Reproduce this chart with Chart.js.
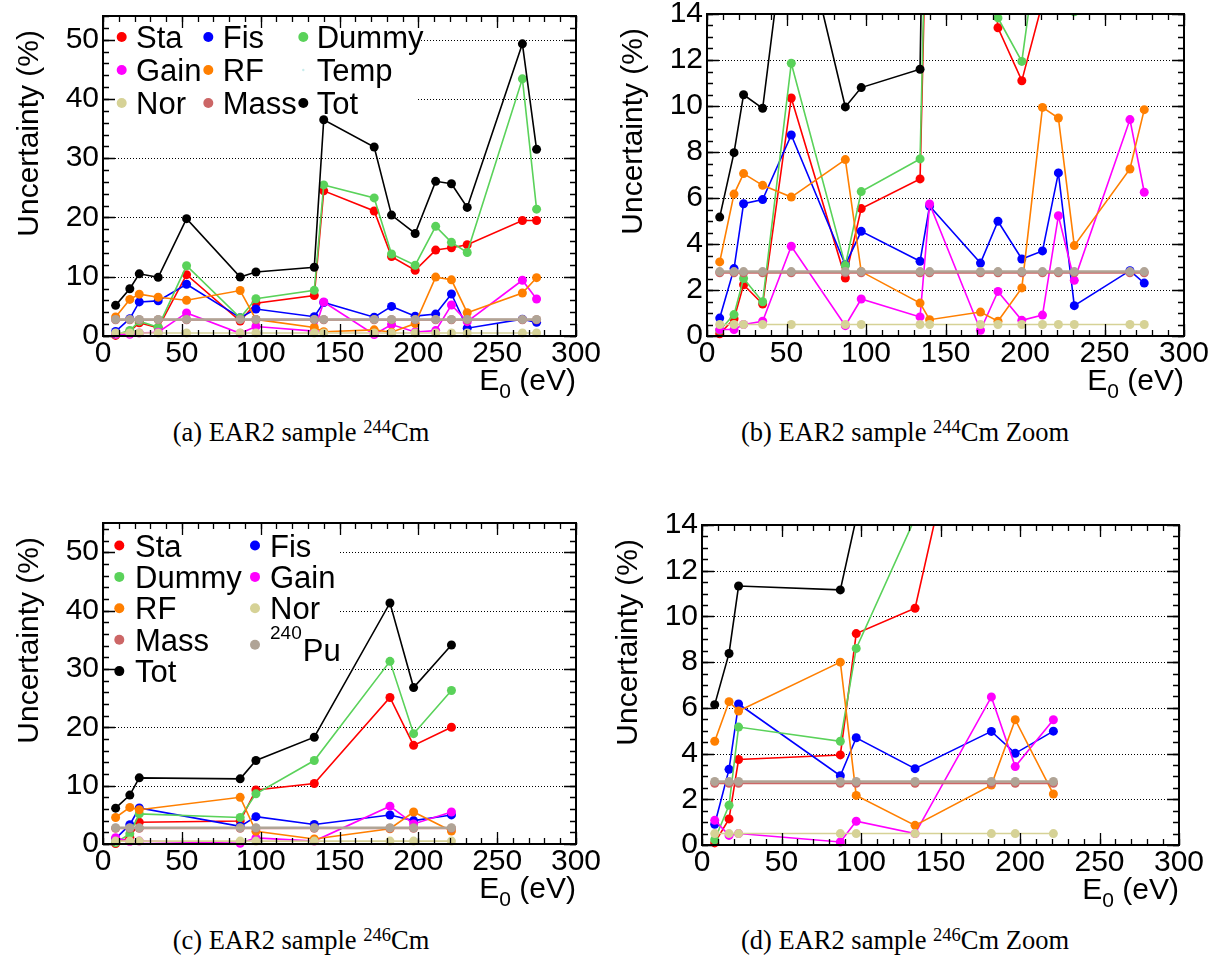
<!DOCTYPE html>
<html><head><meta charset="utf-8">
<script src="https://cdn.jsdelivr.net/npm/chart.js@4.4.1/dist/chart.umd.min.js"></script>
<style>
html,body{margin:0;padding:0;background:#fff;}
body{width:1227px;height:962px;position:relative;overflow:hidden;}
.pane{position:absolute;}
.pane canvas{display:block;}
.cap{position:absolute;font-family:"Liberation Serif","DejaVu Serif",serif;font-size:26.5px;line-height:30px;color:#000;white-space:nowrap;transform:translateX(-50%);}
.cap sup{font-size:0.7em;vertical-align:0.42em;line-height:0;}
</style></head><body>
<div class="pane" style="left:0;top:0;"><canvas id="ca" width="613" height="415"></canvas></div>
<div class="pane" style="left:613px;top:0;"><canvas id="cb" width="614" height="415"></canvas></div>
<div class="pane" style="left:0;top:508px;"><canvas id="cc" width="613" height="415"></canvas></div>
<div class="pane" style="left:613px;top:508px;"><canvas id="cd" width="614" height="415"></canvas></div>
<div class="cap" style="left:301px;top:417px;">(a) EAR2 sample <sup>244</sup>Cm</div>
<div class="cap" style="left:905px;top:417px;">(b) EAR2 sample <sup>244</sup>Cm Zoom</div>
<div class="cap" style="left:301px;top:925px;">(c) EAR2 sample <sup>246</sup>Cm</div>
<div class="cap" style="left:905px;top:925px;">(d) EAR2 sample <sup>246</sup>Cm Zoom</div>
<script>
// ---------- tick labels ----------
const X_TICKS = [0, 50, 100, 150, 200, 250, 300];
const Y_TICKS_FULL = [0, 10, 20, 30, 40, 50];
const Y_TICKS_ZOOM = [0, 2, 4, 6, 8, 10, 12, 14];

// ---------- 244Cm (EAR2) ----------
const E244     = [8, 17, 23, 35, 53, 87, 97, 134, 140, 172, 183, 198, 211, 221, 231, 266, 275];
const sta244   = [0.1, 0.75, 2.23, 1.39, 10.35, 2.52, 5.54, 6.83, 24.5, 21.1, 13.4, 11.1, 14.5, 14.9, 15.4, 19.5, 19.5];
const fis244   = [0.78, 2.93, 5.75, 5.93, 8.74, 3.1, 4.55, 3.25, 5.65, 3.17, 4.99, 3.35, 3.7, 7.09, 1.32, 2.84, 2.3];
const dummy244 = [0.25, 0.93, 2.5, 1.49, 11.86, 3.07, 6.28, 7.7, 25.5, 23.3, 13.83, 11.94, 18.5, 15.8, 14.1, 43.4, 21.4];
const gain244  = [0.28, 0.28, 0.5, 0.64, 3.9, 0.45, 1.61, 0.83, 5.74, 0.25, 1.94, 0.68, 0.91, 5.23, 2.42, 9.41, 6.25];
const rf244    = [3.22, 6.17, 7.06, 6.55, 6.04, 7.67, 2.8, 1.43, 0.71, 1.04, 0.64, 2.09, 9.94, 9.48, 3.93, 7.26, 9.84];
const temp244  = [];
const nor244   = [0.5, 0.5, 0.5, 0.5, 0.5, 0.5, 0.5, 0.5, 0.5, 0.5, 0.5, 0.5, 0.5, 0.5, 0.5, 0.5, 0.5];
const mass244  = [2.75, 2.75, 2.75, 2.75, 2.75, 2.75, 2.75, 2.75, 2.75, 2.75, 2.75, 2.75, 2.75, 2.75, 2.75, 2.75, 2.75];
const pu244    = [2.8, 2.8, 2.8, 2.8, 2.8, 2.8, 2.8, 2.8, 2.8, 2.8, 2.8, 2.8, 2.8, 2.8, 2.8, 2.8, 2.8];
const tot244   = [5.17, 7.97, 10.49, 9.9, 19.8, 9.96, 10.8, 11.6, 36.5, 31.9, 20.4, 17.3, 26.1, 25.7, 21.7, 49.3, 31.5];

// ---------- 246Cm (EAR2) ----------
const E246     = [8, 17, 23, 87, 97, 134, 182, 197, 221];
const sta246   = [0.09, 1.14, 3.74, 3.94, 9.25, 10.36, 25.1, 16.9, 20.0];
const fis246   = [0.91, 3.31, 6.17, 3.03, 4.69, 3.34, 4.97, 4.01, 4.98];
const dummy246 = [0.23, 1.74, 5.16, 4.54, 8.6, 14.3, 31.3, 18.9, 26.3];
const gain246  = [1.08, 0.42, 0.5, 0.13, 1.04, 0.5, 6.48, 3.43, 5.48];
const rf246    = [4.54, 6.27, 5.86, 8.0, 2.17, 0.86, 2.62, 5.48, 2.23];
const nor246   = [0.5, 0.5, 0.5, 0.5, 0.5, 0.5, 0.5, 0.5, 0.5];
const mass246  = [2.7, 2.7, 2.7, 2.7, 2.7, 2.7, 2.7, 2.7, 2.7];
const pu246    = [2.78, 2.78, 2.78, 2.78, 2.78, 2.78, 2.78, 2.78, 2.78];
const tot246   = [6.14, 8.38, 11.33, 11.16, 14.3, 18.3, 41.3, 26.8, 34.1];

const COL = {Sta:'#ff0000', Fis:'#0000ff', Dummy:'#5ad25a', Gain:'#ff00ff', RF:'#ff7f00',
             Temp:'#c8ecec', Nor:'#d6d296', Mass:'#cc6666', Pu:'#b0a496', Tot:'#000000'};
const FONT = '"Liberation Sans", Arial, sans-serif';

function ds(label, key, xs, ys, idx, lw) {
  return {
    label: label, key: key,
    data: ys.map((v, i) => ({x: xs[i], y: v})),
    borderColor: COL[key], backgroundColor: COL[key],
    pointBackgroundColor: COL[key], pointBorderWidth: 0,
    pointRadius: 4.5, pointHoverRadius: 4.5,
    borderWidth: lw || 1.6, tension: 0, fill: false,
    order: 20 - idx,
    clip: {left: 6, right: 6, bottom: 6, top: 0}
  };
}

const set244 = () => [
  ds('Sta', 'Sta', E244, sta244, 0), ds('Fis', 'Fis', E244, fis244, 1),
  ds('Dummy', 'Dummy', E244, dummy244, 2), ds('Gain', 'Gain', E244, gain244, 3),
  ds('RF', 'RF', E244, rf244, 4), ds('Temp', 'Temp', E244, temp244, 5),
  ds('Nor', 'Nor', E244, nor244, 6), ds('Mass', 'Mass', E244, mass244, 7, 2),
  ds('240Pu', 'Pu', E244, pu244, 8, 2.5), ds('Tot', 'Tot', E244, tot244, 9)
];
const set246 = () => [
  ds('Sta', 'Sta', E246, sta246, 0), ds('Fis', 'Fis', E246, fis246, 1),
  ds('Dummy', 'Dummy', E246, dummy246, 2), ds('Gain', 'Gain', E246, gain246, 3),
  ds('RF', 'RF', E246, rf246, 4),
  ds('Nor', 'Nor', E246, nor246, 6), ds('Mass', 'Mass', E246, mass246, 7, 2),
  ds('240Pu', 'Pu', E246, pu246, 8, 2.5), ds('Tot', 'Tot', E246, tot246, 9)
];

function drawLabel(ctx, label, x, y, fs) {
  ctx.font = fs + 'px ' + FONT;
  ctx.textAlign = 'left'; ctx.textBaseline = 'alphabetic';
  if (label === '240Pu') {
    const sfs = Math.round(fs * 0.62);
    ctx.font = sfs + 'px ' + FONT;
    ctx.fillText('240', x, y - 22);
    const w = ctx.measureText('240').width;
    ctx.font = fs + 'px ' + FONT;
    ctx.fillText('Pu', x + w + 1, y);
  } else {
    ctx.fillText(label, x, y);
  }
}

const rootPlugin = {
  id: 'root',
  beforeDatasetsDraw(chart) {
    const cfg = chart.options.plugins.root;
    const {ctx, chartArea: a, scales: {y}} = chart;
    ctx.save();
    ctx.strokeStyle = '#000'; ctx.lineWidth = 1; ctx.setLineDash([1, 2]);
    cfg.yTicks.forEach(v => {
      if (v <= y.min || v >= y.max) return;
      const py = Math.round(y.getPixelForValue(v)) + 0.5;
      ctx.beginPath(); ctx.moveTo(a.left, py); ctx.lineTo(a.right, py); ctx.stroke();
    });
    ctx.setLineDash([]);
    const L = cfg.legend;
    ctx.fillStyle = '#fff';
    ctx.fillRect(a.left + 1, a.top + 1, L.boxW, L.boxH);
    ctx.restore();
  },
  afterDatasetsDraw(chart) {
    const cfg = chart.options.plugins.root;
    const {ctx, chartArea: a} = chart;
    const L = cfg.legend;
    ctx.save();
    L.items.forEach((lab, i) => {
      const d = chart.data.datasets.find(s => s.label === lab);
      if (!d) return;
      const col = L.cols[i % L.cols.length];
      const row = Math.floor(i / L.cols.length);
      let cy = a.top + L.rowY0 + row * L.rowDY;
      let base = cy + 0.358 * L.font;
      let my = cy;
      if (lab === '240Pu') { base += 10; my += 5; }
      ctx.fillStyle = d.borderColor;
      ctx.beginPath();
      ctx.arc(a.left + col.mx, my, lab === 'Temp' ? 1.2 : 5, 0, Math.PI * 2);
      ctx.fill();
      ctx.fillStyle = '#000';
      drawLabel(ctx, lab, a.left + col.tx, base, L.font);
    });
    ctx.restore();
  },
  afterDraw(chart) {
    const cfg = chart.options.plugins.root;
    const {ctx, chartArea: a, scales: {x, y}} = chart;
    ctx.save();
    ctx.strokeStyle = '#000';
    ctx.lineWidth = 1.3;
    const tickX = (v, len) => {
      const px = Math.round(x.getPixelForValue(v)) + 0.5;
      ctx.beginPath();
      ctx.moveTo(px, a.bottom); ctx.lineTo(px, a.bottom - len);
      ctx.moveTo(px, a.top); ctx.lineTo(px, a.top + len);
      ctx.stroke();
    };
    const tickY = (v, len) => {
      const py = Math.round(y.getPixelForValue(v)) + 0.5;
      ctx.beginPath();
      ctx.moveTo(a.left, py); ctx.lineTo(a.left + len, py);
      ctx.moveTo(a.right, py); ctx.lineTo(a.right - len, py);
      ctx.stroke();
    };
    for (let v = x.min; v <= x.max + 1e-9; v += cfg.xMinor) tickX(v, 6);
    X_TICKS.forEach(v => tickX(v, 12));
    for (let v = y.min; v <= y.max + 1e-9; v += cfg.yMinor) tickY(v, 6);
    cfg.yTicks.forEach(v => { if (v <= y.max) tickY(v, 12); });
    ctx.lineWidth = 2;
    ctx.strokeRect(a.left, a.top, a.right - a.left, a.bottom - a.top);
    ctx.fillStyle = '#000';
    ctx.textBaseline = 'alphabetic';
    const fs = 30;
    ctx.font = fs + 'px ' + FONT;
    ctx.textAlign = 'left';
    const t1 = ' (eV)';
    const w1 = ctx.measureText(t1).width;
    const wE = ctx.measureText('E').width;
    ctx.font = '21px ' + FONT;
    const w0 = ctx.measureText('0').width;
    const by = a.bottom + cfg.xTitleDy;
    let xx = a.right - w1 - w0 - wE;
    ctx.font = fs + 'px ' + FONT;
    ctx.fillText('E', xx, by);
    ctx.font = '21px ' + FONT;
    ctx.fillText('0', xx + wE, by + 8);
    ctx.font = fs + 'px ' + FONT;
    ctx.fillText(t1, xx + wE + w0, by);
    ctx.save();
    ctx.translate(a.left - 65, a.top + 14);
    ctx.rotate(-Math.PI / 2);
    ctx.textAlign = 'right';
    ctx.font = fs + 'px ' + FONT;
    ctx.fillText('Uncertainty (%)', 0, 0);
    ctx.restore();
    ctx.restore();
  }
};

function makeChart(id, cfg) {
  const cv = document.getElementById(id);
  const W = cv.width, H = cv.height, A = cfg.area;
  const zeroPad = s => { s.paddingLeft = 0; s.paddingRight = 0; s.paddingTop = 0; s.paddingBottom = 0; };
  return new Chart(cv, {
    type: 'line',
    data: {datasets: cfg.datasets},
    options: {
      responsive: false, animation: false, devicePixelRatio: 1,
      layout: {padding: {left: 0, top: A.top, right: W - A.right, bottom: 0}},
      plugins: {
        legend: {display: false}, tooltip: {enabled: false},
        root: {yTicks: cfg.yTicks, yMinor: cfg.yMinor, xMinor: 10, legend: cfg.legend, xTitleDy: 54}
      },
      events: [],
      scales: {
        x: {
          type: 'linear', min: 0, max: 300,
          grid: {display: false, drawTicks: false}, border: {display: false},
          afterBuildTicks: s => { s.ticks = X_TICKS.map(v => ({value: v})); },
          ticks: {font: {family: FONT, size: 30}, color: '#000', padding: 0, maxRotation: 0, autoSkip: false},
          afterFit: s => { s.height = H - A.bottom; zeroPad(s); }
        },
        y: {
          type: 'linear', min: 0, max: cfg.ymax,
          grid: {display: false, drawTicks: false}, border: {display: false},
          afterBuildTicks: s => { s.ticks = cfg.yTicks.map(v => ({value: v})); },
          ticks: {font: {family: FONT, size: 30}, color: '#000', padding: 4, autoSkip: false},
          afterFit: s => { s.width = A.left; zeroPad(s); }
        }
      }
    },
    plugins: [rootPlugin]
  });
}

const legendA = {
  boxW: 314, boxH: 95, font: 31, rowY0: 21, rowDY: 33,
  cols: [{mx: 18.7, tx: 33}, {mx: 105.3, tx: 119.7}, {mx: 200.3, tx: 213.7}],
  items: ['Sta', 'Fis', 'Dummy', 'Gain', 'RF', 'Temp', 'Nor', 'Mass', 'Tot']
};
const legendC = {
  boxW: 235, boxH: 172, font: 31, rowY0: 22.5, rowDY: 31.4,
  cols: [{mx: 16.3, tx: 32}, {mx: 152, tx: 167}],
  items: ['Sta', 'Fis', 'Dummy', 'Gain', 'RF', 'Nor', 'Mass', '240Pu', 'Tot']
};
const legendNone = {boxW: 0, boxH: 0, font: 31, rowY0: 0, rowDY: 0, cols: [{mx: 0, tx: 0}], items: []};

makeChart('ca', {area: {left: 103, top: 16, right: 576, bottom: 336}, ymax: 54,
  yTicks: Y_TICKS_FULL, yMinor: 2, legend: legendA, datasets: set244()});
makeChart('cb', {area: {left: 94, top: 14, right: 571, bottom: 336}, ymax: 14,
  yTicks: Y_TICKS_ZOOM, yMinor: 0.5, legend: legendNone, datasets: set244()});
makeChart('cc', {area: {left: 103, top: 15, right: 576, bottom: 336}, ymax: 55,
  yTicks: Y_TICKS_FULL, yMinor: 2, legend: legendC, datasets: set246()});
makeChart('cd', {area: {left: 89, top: 17, right: 566, bottom: 337}, ymax: 14,
  yTicks: Y_TICKS_ZOOM, yMinor: 0.5, legend: legendNone, datasets: set246()});
</script>
</body></html>
